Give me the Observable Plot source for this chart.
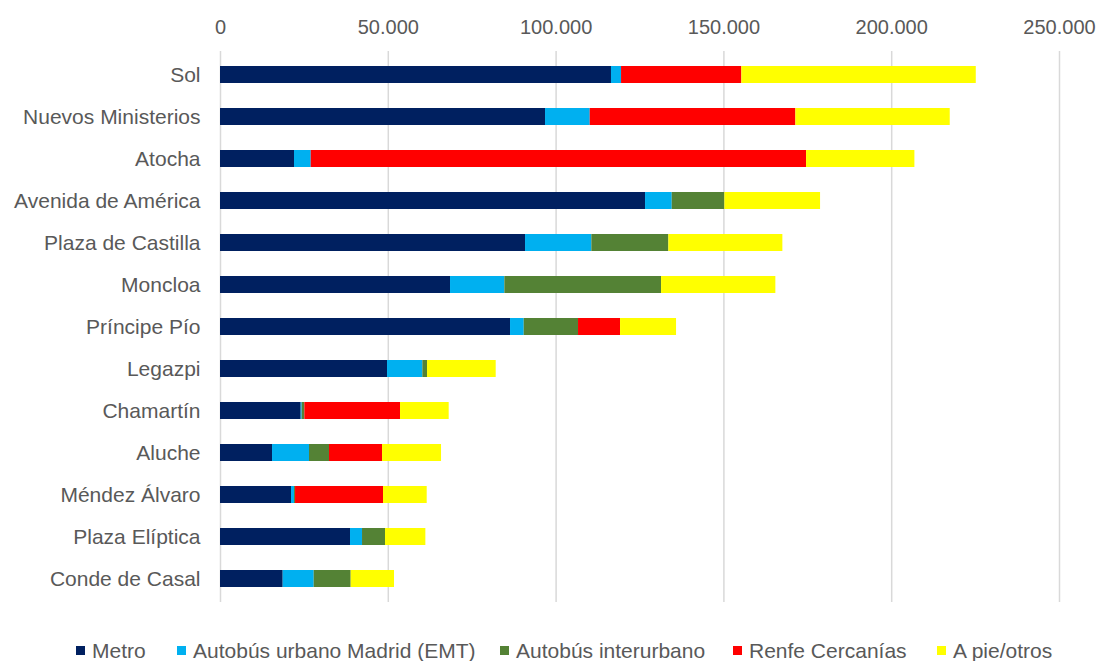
<!DOCTYPE html>
<html>
<head>
<meta charset="utf-8">
<script src="https://cdn.jsdelivr.net/npm/d3@7"></script>
<script src="https://cdn.jsdelivr.net/npm/@observablehq/plot@0.6"></script>
<style>
  html, body { margin: 0; padding: 0; background: #fff; }
  body { width: 1100px; height: 661px; overflow: hidden; font-family: "Liberation Sans", Arial, sans-serif; }
  #legend { position: relative; height: 41px; width: 1100px; }
  .item { position: absolute; top: 20px; height: 22px; line-height: 22px; font-size: 21px; color: #595959; white-space: nowrap; }
  .sw { position: absolute; top: 6px; width: 9px; height: 9px; }
  .lbl { position: absolute; top: 0; left: 16px; }
</style>
</head>
<body>
<div id="chart"></div>
<div id="legend"></div>
<script>
const stations = ["Sol", "Nuevos Ministerios", "Atocha", "Avenida de América", "Plaza de Castilla", "Moncloa", "Príncipe Pío", "Legazpi", "Chamartín", "Aluche", "Méndez Álvaro", "Plaza Elíptica", "Conde de Casal"];
const modes = ["Metro", "Autobús urbano Madrid (EMT)", "Autobús interurbano", "Renfe Cercanías", "A pie/otros"];
const colors = ["#002060", "#00B0F0", "#548235", "#FF0000", "#FFFF00"];
const metro       = [116500, 96850, 22050, 126650, 90890, 68540, 86420, 49770, 24040, 15500, 21160, 38740, 18680];
const emt         = [3000, 13320, 4980, 7950, 19760, 16190, 4080, 10520, 300, 11020, 900, 3580, 9240];
const interurbano = [0, 0, 0, 15690, 22950, 46690, 16180, 1400, 800, 5960, 300, 6850, 11020];
const renfe       = [35850, 61280, 147600, 0, 0, 0, 12520, 0, 28500, 15800, 26210, 0, 0];
const pie         = [69850, 45990, 32280, 28510, 33970, 34060, 16690, 20460, 14500, 17580, 13020, 12020, 12910];
const xTicks = [0, 50000, 100000, 150000, 200000, 250000];

const seriesArrays = [metro, emt, interurbano, renfe, pie];
const data = [];
stations.forEach((s, i) => {
  modes.forEach((m, j) => data.push({station: s, mode: m, value: seriesArrays[j][i]}));
});

const fmt = d3.formatLocale({decimal: ",", thousands: ".", grouping: [3], currency: ["", "€"]}).format(",");

const chart = Plot.plot({
  width: 1100,
  height: 620,
  marginLeft: 220,
  marginRight: 41,
  marginTop: 51,
  marginBottom: 18,
  style: {fontFamily: "'Liberation Sans', Arial, sans-serif", color: "#595959", background: "#fff"},
  x: {domain: [0, 250000], ticks: xTicks, label: null},
  y: {domain: stations, paddingInner: 0.6, paddingOuter: 0.3, label: null},
  color: {domain: modes, range: colors},
  marks: [
    Plot.gridX(xTicks, {stroke: "#d9d9d9", strokeOpacity: 1, strokeWidth: 1.5}),
    Plot.barX(data, {x: "value", y: "station", fill: "mode", order: modes}),
    Plot.axisX(xTicks, {anchor: "top", tickSize: 0, tickPadding: 18, fontSize: 20, tickFormat: fmt, label: null, fill: "#595959"}),
    Plot.axisY({tickSize: 0, tickPadding: 20, fontSize: 21, label: null, fill: "#595959"})
  ]
});
document.getElementById("chart").appendChild(chart);

const legendPos = [76, 177, 500, 733, 937];
const legend = document.getElementById("legend");
modes.forEach((m, j) => {
  const it = document.createElement("div");
  it.className = "item";
  it.style.left = legendPos[j] + "px";
  const sw = document.createElement("div");
  sw.className = "sw";
  sw.style.background = colors[j];
  const lb = document.createElement("span");
  lb.className = "lbl";
  lb.textContent = m;
  it.appendChild(sw);
  it.appendChild(lb);
  legend.appendChild(it);
});
</script>
</body>
</html>
